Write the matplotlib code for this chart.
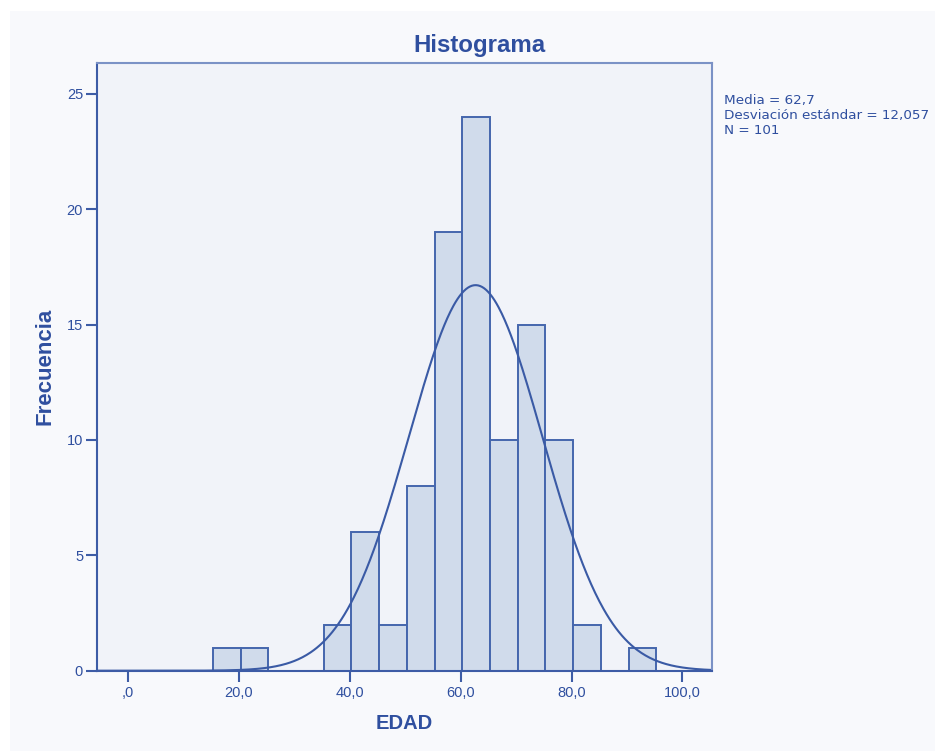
import numpy as np
import matplotlib
matplotlib.use("Agg")
import matplotlib.pyplot as plt
from matplotlib.patches import Rectangle

# Frequency table of EDAD (bin width 5, left edges of each bin)
bin_left = [15.3, 20.3, 25.3, 30.3, 35.3, 40.3, 45.3, 50.3, 55.3, 60.3, 65.3, 70.3, 75.3, 80.3, 85.3, 90.3]
counts   = [1, 1, 0, 0, 2, 6, 2, 8, 19, 24, 10, 15, 10, 2, 0, 1]
bin_width = 5

mean_val = 62.7
std_val = 12.057
n_val = 101

x_ticks = [0, 20, 40, 60, 80, 100]
x_tick_labels = [",0", "20,0", "40,0", "60,0", "80,0", "100,0"]
y_ticks = [0, 5, 10, 15, 20, 25]

plt.rcParams['font.family'] = ['Liberation Sans', 'DejaVu Sans']

text_col = '#2f4f9f'
dark_line = '#3d5ca6'
light_line = '#7b92c6'
bar_fill = '#d0dbeb'
bar_edge = '#4566ad'
panel_bg = '#f8f9fc'
axes_bg = '#f1f3f9'

fig = plt.figure(figsize=(9.35, 7.51), dpi=100, facecolor='white')
fig.patches.append(Rectangle((10 / 935, 0), 1, 1 - 11 / 751, transform=fig.transFigure,
                             facecolor=panel_bg, edgecolor='none', zorder=-5))

ax = fig.add_axes([97 / 935, 1 - 670.7 / 751, (712.3 - 97) / 935, (670.7 - 62.7) / 751])
ax.set_facecolor(axes_bg)

ax.bar(bin_left, counts, width=bin_width, align='edge', color=bar_fill,
       edgecolor=bar_edge, linewidth=1.4, zorder=2)

# Fitted normal curve scaled to counts per bin
xs = np.linspace(-5.6, 105.4, 600)
pdf = np.exp(-0.5 * ((xs - mean_val) / std_val) ** 2) / (std_val * np.sqrt(2 * np.pi))
ax.plot(xs, n_val * bin_width * pdf, color='#3a5aa5', linewidth=1.5, zorder=3)

ax.set_xlim(-5.6, 105.4)
ax.set_ylim(0, 26.35)
ax.set_xticks(x_ticks)
ax.set_xticklabels(x_tick_labels)
ax.set_yticks(y_ticks)

ax.tick_params(axis='both', colors=dark_line, labelcolor=text_col, labelsize=10.5,
               length=8, width=1.5, direction='out')
ax.tick_params(axis='x', pad=3)
ax.tick_params(axis='y', pad=2)

for side in ['left', 'bottom']:
    ax.spines[side].set_color(dark_line)
    ax.spines[side].set_linewidth(1.5)
for side in ['top', 'right']:
    ax.spines[side].set_color(light_line)
    ax.spines[side].set_linewidth(1.5)
for sp in ax.spines.values():
    sp.set_zorder(4)

ax.set_xlabel('EDAD', fontsize=14.5, fontweight='bold', color=text_col, labelpad=10)
ax.set_ylabel('Frecuencia', fontsize=16, fontweight='bold', color=text_col, labelpad=8)

fig.text(479 / 935, 1 - 52 / 751, 'Histograma', fontsize=17.3, fontweight='bold',
         color=text_col, ha='center', va='baseline')

fig.text(724 / 935, 1 - 94 / 751,
         "Media = 62,7\nDesviación estándar = 12,057\nN = 101",
         fontsize=9.7, color=text_col, ha='left', va='top', linespacing=1.18,
         family='DejaVu Sans')

fig.savefig('out.png', dpi=100, facecolor='white')
